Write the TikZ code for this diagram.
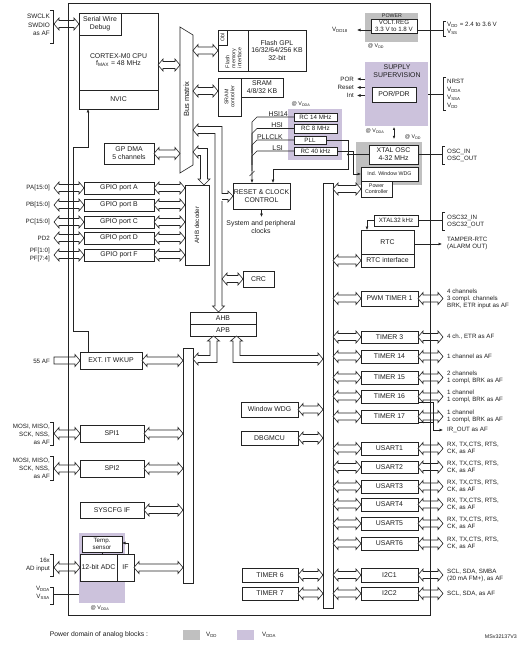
\documentclass[tikz,border=0pt]{standalone}
\usepackage{fontspec}
\setmainfont{Liberation Sans}
\usetikzlibrary{calc,arrows.meta}
\definecolor{vddc}{RGB}{192,192,192}
\definecolor{vddac}{RGB}{204,194,220}
\definecolor{lc}{RGB}{35,35,35}
\definecolor{tc}{RGB}{30,30,30}
\newcommand\fs{\fontsize{6.9}{7.8}\selectfont}
\newcommand\fr{\fontsize{6.2}{7}\selectfont}
\newcommand\ft{\fontsize{5.3}{6}\selectfont}
\newcommand\fah{5pt}
\newcommand\faw{6pt}
\newcommand\fas{3.5pt}
\newcommand\bx[7][]{\node[box,minimum width={#5-#3},minimum height={#6-#4},#1] (#2) at ({(#3+#5)/2},{(#4+#6)/2}) {#7};}
% horizontal double fat arrow, y taken from first point
\newcommand\hda[2]{\path[fat] let \p1=#1, \p2=#2 in (\x1,\y1) -- ({\x1+\fah},{\y1+\faw}) -- ({\x1+\fah},{\y1+\fas}) -- ({\x2-\fah},{\y1+\fas}) -- ({\x2-\fah},{\y1+\faw}) -- (\x2,\y1) -- ({\x2-\fah},{\y1-\faw}) -- ({\x2-\fah},{\y1-\fas}) -- ({\x1+\fah},{\y1-\fas}) -- ({\x1+\fah},{\y1-\faw}) -- cycle;}
% horizontal single fat arrow pointing right
\newcommand\hsa[2]{\path[fat] let \p1=#1, \p2=#2 in ({\x1},{\y1+\fas}) -- ({\x2-\fah},{\y1+\fas}) -- ({\x2-\fah},{\y1+\faw}) -- (\x2,\y1) -- ({\x2-\fah},{\y1-\faw}) -- ({\x2-\fah},{\y1-\fas}) -- ({\x1},{\y1-\fas}) -- cycle;}
\newcommand\lbrk[3]{\draw[thin] (#1-3,#2) -- (#1,#2) -- (#1,#3) -- (#1-3,#3);}
\newcommand\rbrk[3]{\draw[thin] (#1+3,#2) -- (#1,#2) -- (#1,#3) -- (#1+3,#3);}
\begin{document}
\begin{tikzpicture}[x=1pt,y=-1pt,font=\fs,text=tc,line join=miter,
  box/.style={draw=lc,fill=white,line width=0.7pt,inner sep=0pt,outer sep=0pt,align=center},
  fat/.style={draw=lc,fill=white,line width=0.6pt},
  thin/.style={draw=lc,line width=0.6pt},
  arr/.style={thin,-{Latex[length=3.5pt,width=3pt]}},
  arrs/.style={thin,{Latex[length=3pt,width=2.6pt]}-{Latex[length=3pt,width=2.6pt]}},
  lbl/.style={inner sep=0pt,align=left,anchor=west,font=\fr},
  lbr/.style={inner sep=0pt,align=right,anchor=east,font=\fr},
  tiny/.style={inner sep=0pt,font=\ft,align=center},
  rot/.style={rotate=90,inner sep=0pt,align=center}]
\useasboundingbox (0,0) rectangle (518,647);
\fill[white] (0,0) rectangle (518,647);
% power domains
\fill[vddc] (365,13) rectangle (418,42);
\fill[vddac] (365,62) rectangle (428,126);
\fill[vddac] (288,109) rectangle (342,160);
\fill[vddc] (356,142) rectangle (422,185);
\fill[vddac] (79,533) rectangle (125,603);
% reference coordinates
\coordinate (extL) at (54,0);
\coordinate (extR) at (443,0);
\coordinate (bmL) at (180,0);
\coordinate (bmR) at (193,0);
\coordinate (ahbR) at (222,0);
% CPU
\bx{cpu}{79}{13}{158}{109}{}
\draw[thin] (79,90) -- (158,90);
\node[align=center] at (118.5,60) {CORTEX-M0 CPU\\f\textsubscript{MAX} = 48 MHz};
\node at (118.5,99.5) {NVIC};
\bx{swd}{79}{13}{121}{35}{Serial Wire\\Debug}
% bus matrix
\draw[fat] (180,27) -- (193,35) -- (193,165) -- (180,173) -- cycle;
\node[rot,font=\fontsize{7.5}{8}\selectfont] at (186.5,99) {Bus matrix};
% flash
\bx{fmi}{218}{30}{248}{71}{}
\bx{obl}{218}{30}{227}{45}{}
\node[rot,font=\ft] at (222.5,37.5) {Obl};
\node[rot,align=left,font=\ft] at (233.5,58) {Flash\\memory\\interface};
\bx{flash}{248}{30}{306}{71}{Flash GPL\\16/32/64/256 KB\\32-bit}
% sram
\bx{sramc}{218}{78}{241}{116}{}
\node[rot,font=\ft] at (229.5,97) {SRAM\\controller};
\bx{sram}{241}{78}{283}{97}{SRAM\\4/8/32 KB}
% DMA, GPIO
\bx{dma}{104}{143}{154}{164}{GP DMA\\5 channels}
\bx{gpa}{84}{182}{154}{194}{GPIO port A}
\bx{gpb}{84}{199}{154}{211}{GPIO port B}
\bx{gpc}{84}{216}{154}{228}{GPIO port C}
\bx{gpd}{84}{232}{154}{244}{GPIO port D}
\bx{gpf}{84}{249}{154}{261}{GPIO port F}
\bx{ahbd}{185}{185}{209}{265}{}
\node[rot,font=\fontsize{6.2}{7}\selectfont] at (197,225) {AHB decoder};
% RCC, CRC, AHB/APB
\bx{rcc}{233}{183}{290}{209}{RESET \& CLOCK\\CONTROL}
\bx{crc}{243}{271}{274}{287}{CRC}
\bx{ahb}{190}{312}{256}{324}{AHB}
\bx{apb}{190}{324}{256}{336}{APB}
% left APB peripherals
\bx{ext}{80}{352}{142}{369}{EXT. IT  WKUP}
\bx{spia}{80}{425}{144}{442}{SPI1}
\bx{spib}{80}{460}{144}{477}{SPI2}
\bx{sys}{80}{502}{144}{518}{SYSCFG IF}
\bx[font=\fr]{temp}{82}{536}{122}{552}{Temp.\\sensor}
\bx{adc}{80}{554}{117}{581}{12-bit ADC}
\bx{adcif}{117}{554}{134}{581}{IF}
\draw[thin] (102,552) -- (102,554);
\bx{lbus}{183}{348}{193}{583}{}
% middle APB peripherals
\bx{wwdg}{241}{402}{298}{417}{Window WDG}
\bx{dbg}{241}{431}{298}{445}{DBGMCU}
\bx{tim6}{242}{568}{298}{582}{TIMER 6}
\bx{tim7}{242}{587}{298}{600}{TIMER 7}
\bx{rbus}{323}{183}{333}{608}{}
% right peripherals
\bx{tim1}{361}{291}{418}{306}{PWM TIMER 1}
\bx{tim3}{361}{331}{418}{343}{TIMER 3}
\bx{tim14}{361}{350}{418}{363}{TIMER 14}
\bx{tim15}{361}{371}{418}{384}{TIMER 15}
\bx{tim16}{361}{390}{418}{403}{TIMER 16}
\bx{tim17}{361}{410}{418}{423}{TIMER 17}
\bx{us1}{361}{442}{418}{455}{USART1}
\bx{us2}{361}{461}{418}{473}{USART2}
\bx{us3}{361}{480}{418}{493}{USART3}
\bx{us4}{361}{498}{418}{511}{USART4}
\bx{us5}{361}{517}{418}{530}{USART5}
\bx{us6}{361}{537}{418}{550}{USART6}
\bx{i2ca}{361}{568}{418}{582}{I2C1}
\bx{i2cb}{361}{587}{418}{600}{I2C2}
\bx{rtc}{361}{230}{414}{254}{RTC}
\bx{rtci}{361}{254}{414}{267}{RTC interface}
\bx[font=\fr]{x32}{374}{215}{418}{226}{XTAL32 kHz}
% clocks
\bx{xosc}{369}{145}{418}{164}{XTAL OSC\\4-32 MHz}
\bx[font=\ft]{iwdg}{361}{167}{418}{181}{Ind. Window WDG}
\bx[font=\ft]{pwrc}{361}{181}{392}{197}{Power\\Controller}
\bx[font=\fr]{rc14}{294}{113}{337}{121}{RC 14 MHz}
\bx[font=\fr]{rc8}{294}{124}{337}{133}{RC 8 MHz}
\bx[font=\fr]{pll}{294}{136}{326}{144}{PLL}
\bx[font=\fr]{rc40}{294}{147}{337}{155}{RC 40 kHz}
% supply, power
\node[align=center,inner sep=0pt] at (397,71.5) {SUPPLY\\SUPERVISION};
\bx{por}{372}{87}{416}{102}{POR/PDR}
\node[tiny] at (392,16) {POWER};
\bx[font=\fr]{vreg}{371}{19}{417}{33}{VOLT.REG\\3.3 V to 1.8 V}
% domain labels
\node[tiny] at (376,46) {@ V\textsubscript{DD}};
\node[tiny] at (301,104) {@ V\textsubscript{DDA}};
\node[tiny] at (375,131) {@ V\textsubscript{DDA}};
\node[tiny] at (413,137) {@ V\textsubscript{DD}};
\node[tiny] at (100,608) {@ V\textsubscript{DDA}};
% ---------- fat arrows ----------
\coordinate (cpuA) at ([yshift=-4pt]cpu.east);
\hda{(cpuA)}{(cpuA -| bmL)}
\hda{(fmi.west -| bmR)}{(fmi.west)}
\coordinate (sramA) at ([yshift=6pt]sramc.west);
\hda{(sramA -| bmR)}{(sramA)}
\hda{(dma.east)}{(dma.east -| bmL)}
\hda{(swd.west -| extL)}{(swd.west)}
\foreach \q in {gpa,gpb,gpc,gpd,gpf}{
  \hda{(\q.west -| extL)}{(\q.west)}
  \hda{(\q.east)}{(\q.east -| ahbd.west)}
}
% AHB bus from bus matrix
\draw[fat] (193,130) -- (198,124) -- (198,126.5) -- (222,126.5) -- (222,306) -- (224.5,306) -- (218.5,312) -- (212.5,306) -- (215,306) -- (215,133.5) -- (198,133.5) -- (198,136) -- cycle;
% bus matrix to AHB decoder
\draw[fat] (193,152) -- (198,146) -- (198,148.5) -- (207.5,148.5) -- (207.5,179) -- (210,179) -- (204,185) -- (198,179) -- (200.5,179) -- (200.5,155.5) -- (198,155.5) -- (198,158) -- cycle;
% branch to RCC
\fill[white] (221,193.5) rectangle (223,200.5);
\draw[fat] (222,193.5) -- (228,193.5) -- (228,191) -- (rcc.west) -- (228,202) -- (228,199.5) -- (222,199.5);
\hda{(crc.west -| ahbR)}{(crc.west)}
% APB to left bus
\draw[fat] (213.5,336) -- (219.5,341) -- (217,341) -- (217,362.5) -- (198,362.5) -- (198,365) -- (193,359) -- (198,353) -- (198,355.5) -- (210,355.5) -- (210,341) -- (207.5,341) -- cycle;
% APB to right bus
\draw[fat] (236.5,336) -- (242.5,341) -- (240,341) -- (240,355.5) -- (318,355.5) -- (318,353) -- (323,359) -- (318,365) -- (318,362.5) -- (233,362.5) -- (233,341) -- (230.5,341) -- cycle;
% left side peripherals
\hsa{(ext.west -| extL)}{(ext.west)}
\foreach \q in {ext,spia,spib,sys,adcif}{\hda{(\q.east)}{(\q.east -| lbus.west)}}
\hda{(spia.west -| extL)}{(spia.west)}
\hda{(spib.west -| extL)}{(spib.west)}
\hda{(adc.west -| extL)}{(adc.west)}
% middle
\foreach \q in {wwdg,dbg,tim6,tim7}{\hda{(\q.east)}{(\q.east -| rbus.west)}}
% right
\foreach \q in {tim1,tim3,tim14,tim15,tim16,tim17,us1,us2,us3,us4,us5,us6,i2ca,i2cb}{
  \hda{(\q.west -| rbus.east)}{(\q.west)}
  \hda{(\q.east)}{(\q.east -| extR)}
}
\hda{(rtci.west -| rbus.east)}{(rtci.west)}
\hda{(pwrc.west -| rbus.east)}{(pwrc.west)}
% ---------- thin connections ----------
\coordinate (hv) at (252,0);
\draw[arr] (rc14.west) -- ++(-37,0) -- ++(-5,5) -- (hv |- rcc.north);
\draw[thin] (rc8.west) -- ++(-37,0) -- ++(-5,5) -- ++(0,20);
\draw[thin] (pll.west) -- ++(-37,0) -- ++(-5,5) -- ++(0,20);
\draw[thin] (rc40.west) -- ++(-37,0) -- ++(-5,5) -- ++(0,15);
\draw[thin] (249.5,176) -- (254.5,171);
\node[inner sep=0pt,anchor=south east] at (288,116.3) {HSI14};
\node[inner sep=0pt,anchor=south east] at (283,127.8) {HSI};
\node[inner sep=0pt,anchor=south east] at (283,139.3) {PLLCLK};
\node[inner sep=0pt,anchor=south east] at (283,150.3) {LSI};
\draw[arr] (pll.east) -- (348,140) -- (348,169) -- (273,169) -- (273,183);
\draw[thin] (xosc.west) -- (348,154.5);
\fill[lc] (348,154.5) circle (1.1);
\draw[arr] (rc40.east) -- (353,151) |- (iwdg.west);
\draw[arr] (261.5,209) -- (261.5,217);
\node[align=center,inner sep=0pt] at (261,227) {System and peripheral\\clocks};
\draw[arrs] (394,127) -- (394,139);
% power
\draw[arr] (371,30) -- (357,30);
\node[lbr] at (348,30) {V\textsubscript{DD18}};
\draw[thin] (417,30) -- (443,30);
\rbrk{443}{21}{36}
\node[lbl] at (447,28.5) {V\textsubscript{DD} = 2.4 to 3.6 V\\V\textsubscript{SS}};
% supply
\draw[arr] (365,79) -- (357,79);
\draw[arr] (365,87.5) -- (357,87.5);
\draw[arr] (365,95.5) -- (357,95.5);
\node[lbr] at (354,79) {POR};
\node[lbr] at (354,87.5) {Reset};
\node[lbr] at (354,95.5) {Int};
\draw[thin] (428,94) -- (443,94);
\rbrk{443}{77}{110}
\node[lbl,font=\fontsize{6.2}{8}\selectfont] at (447,93.5) {NRST\\V\textsubscript{DDA}\\V\textsubscript{SSA}\\V\textsubscript{DD}};
% oscillators
\draw[thin] (xosc.east) -- (442,154.5);
\rbrk{442}{146}{164}
\node[lbl] at (447,155.5) {OSC\_IN\\OSC\_OUT};
\draw[thin] (x32.east) -- (442,220.5);
\rbrk{442}{212}{230}
\node[lbl] at (447,221.5) {OSC32\_IN\\OSC32\_OUT};
\draw[arr] (x32.west) -- (367,220.5) -- (367,230);
\draw[arr] (414,244) -- (442,244);
\node[lbl] at (447,243) {TAMPER-RTC\\(ALARM OUT)};
% right labels
\node[lbl] at (447,298.5) {4 channels\\3 compl. channels\\BRK, ETR input as AF};
\node[lbl] at (447,337) {4 ch., ETR as AF};
\node[lbl] at (447,356.5) {1 channel as AF};
\node[lbl] at (447,377.5) {2 channels\\1 compl, BRK as AF};
\node[lbl] at (447,396.5) {1 channel\\1 compl, BRK as AF};
\node[lbl] at (447,416.5) {1 channel\\1 compl, BRK as AF};
\draw[thin] (418,402) -- (433,402) -- (433,430);
\draw[thin] (418,422) -- (433,422);
\draw[arr] (433,430) -- (443,430);
\node[lbl] at (447,430) {IR\_OUT as AF};
\foreach \q in {us1,us2,us3,us4,us5,us6}{\node[lbl] at ([xshift=29pt]\q.east) {RX, TX,CTS, RTS,\\CK, as AF};}
\node[lbl] at ([xshift=29pt]i2ca.east) {SCL, SDA, SMBA\\(20 mA FM+), as AF};
\node[lbl] at ([xshift=29pt]i2cb.east) {SCL, SDA, as AF};
% left labels
\lbrk{53}{10}{43}
\node[lbr,font=\fontsize{6.4}{8.5}\selectfont] at (50,25) {SWCLK\\SWDIO\\as AF};
\node[lbr] at (50,188) {PA[15:0]};
\node[lbr] at (50,205) {PB[15:0]};
\node[lbr] at (50,222) {PC[15:0]};
\node[lbr] at (50,238) {PD2};
\node[lbr,font=\fontsize{6.2}{8}\selectfont] at (50,255) {PF[1:0]\\PF[7:4]};
\node[lbr] at (50,361) {55 AF};
\lbrk{53}{422}{445}
\node[lbr,font=\fontsize{6.2}{8}\selectfont] at (50,434) {MOSI, MISO,\\SCK, NSS,\\as AF};
\lbrk{53}{456}{480}
\node[lbr,font=\fontsize{6.2}{8}\selectfont] at (50,468) {MOSI, MISO,\\SCK, NSS,\\as AF};
\lbrk{53}{554}{576}
\node[lbr,font=\fontsize{6.2}{8}\selectfont] at (50,565) {16x\\AD input};
\lbrk{53}{587}{604}
\node[lbr,font=\fontsize{6.2}{8}\selectfont] at (50,593) {V\textsubscript{DDA}\\V\textsubscript{SSA}};
\draw[thin] (53,594) -- (79,594);
\draw[arr] (128,554) -- (128,543) -- (122,543);
% interrupt line to NVIC
\draw[arr] (88,352) -- (88,331) -- (73,331) -- (73,147) -- (88,147) -- (88,109);
% outer frame
\draw[thin,line width=0.8pt] (68,3) rectangle (430,615);
% legend
\node[font=\fontsize{6.8}{8}\selectfont] at (99,634.5) {Power domain of analog blocks :};
\fill[vddc] (183,630) rectangle (200,640);
\node[anchor=west,inner sep=0pt,font=\fr] at (206,635) {V\textsubscript{DD}};
\fill[vddac] (237,630) rectangle (254,640);
\node[anchor=west,inner sep=0pt,font=\fr] at (262,635) {V\textsubscript{DDA}};
\node[anchor=east,inner sep=0pt,font=\ft] at (517,637) {MSv32137V3};
\end{tikzpicture}
\end{document}
